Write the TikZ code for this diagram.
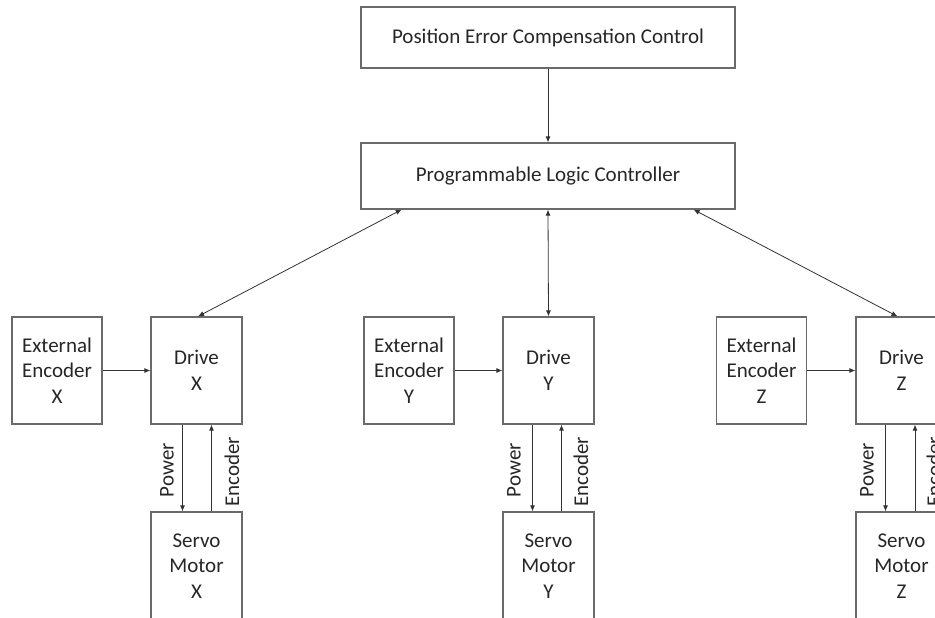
\documentclass[tikz,border=0pt]{standalone}
\usepackage{fontspec}
\setmainfont{Carlito}
\usetikzlibrary{arrows.meta,calc}
\begin{document}
\begin{tikzpicture}[x=1pt,y=-1pt,
  box/.style={draw=boxgray,line width=1.2pt,minimum width=#1,inner sep=0pt,align=center,
    font=\fontsize{21}{25.5}\selectfont,text=black!85},
  box/.default=91pt,
  conn/.style={draw=black!80,line width=0.8pt,-{Latex[length=6pt,width=5pt]}},
  biconn/.style={draw=black!80,line width=0.8pt,{Latex[length=6pt,width=5pt]}-{Latex[length=6pt,width=5pt]}},
  lbl/.style={rotate=90,font=\fontsize{21}{24}\selectfont,text=black!85,inner sep=0pt}]
\definecolor{boxgray}{HTML}{6A6A6A}
\useasboundingbox (0,0) rectangle (935,618);
% top
\node[box=374pt,minimum height=61pt] (pecc) at (548,37.5) {Position Error Compensation Control};
\node[box=374pt,minimum height=66pt] (plc) at (548,176) {Programmable Logic Controller};
% X column
\node[box=90pt,minimum height=107pt] (encx) at (57,370.5) {External\\Encoder\\X};
\node[box,minimum height=107pt] (drvx) at (196.5,370.5) {Drive\\X};
\node[box,minimum height=108pt] (srvx) at (196.5,566) {Servo\\Motor\\X};
% Y column
\node[box=90pt,minimum height=107pt] (ency) at (409,370.5) {External\\Encoder\\Y};
\node[box,minimum height=107pt] (drvy) at (548.5,370.5) {Drive\\Y};
\node[box,minimum height=108pt] (srvy) at (548.5,566) {Servo\\Motor\\Y};
% Z column
\node[box=90pt,minimum height=107pt] (encz) at (761.5,370.5) {External\\Encoder\\Z};
\node[box,minimum height=107pt] (drvz) at (901.5,370.5) {Drive\\Z};
\node[box,minimum height=108pt] (srvz) at (901.5,566) {Servo\\Motor\\Z};
% labels
\node[lbl] (pwx) at (167,470) {Power};
\node[lbl] (ecx) at (232,472) {Encoder};
\node[lbl] (pwy) at (514,470) {Power};
\node[lbl] (ecy) at (581,472) {Encoder};
\node[lbl] (pwz) at (867,470) {Power};
\node[lbl] (ecz) at (934,472) {Encoder};
% connectors
\draw[conn] (pecc.south) -- (plc.north);
\draw[biconn] ($(plc.south west)!0.11!(plc.south east)$) -- ($(drvx.north)+(1.5,0)$);
\draw[biconn] (plc.south) -- (drvy.north);
\draw[biconn] ($(plc.south west)!0.888!(plc.south east)$) -- ($(drvz.north)+(-4,0)$);
\draw[conn] (encx.east) -- (drvx.west);
\draw[conn] (ency.east) -- (drvy.west);
\draw[conn] (encz.east) -- (drvz.west);
\draw[conn] ($(drvx.south)+(-14,0)$) -- ($(srvx.north)+(-14,0)$);
\draw[conn] ($(srvx.north)+(15,0)$) -- ($(drvx.south)+(15,0)$);
\draw[conn] ($(drvy.south)+(-16,0)$) -- ($(srvy.north)+(-16,0)$);
\draw[conn] ($(srvy.north)+(13,0)$) -- ($(drvy.south)+(13,0)$);
\draw[conn] ($(drvz.south)+(-16,0)$) -- ($(srvz.north)+(-16,0)$);
\draw[conn] ($(srvz.north)+(13.5,0)$) -- ($(drvz.south)+(13.5,0)$);
\end{tikzpicture}
\end{document}
